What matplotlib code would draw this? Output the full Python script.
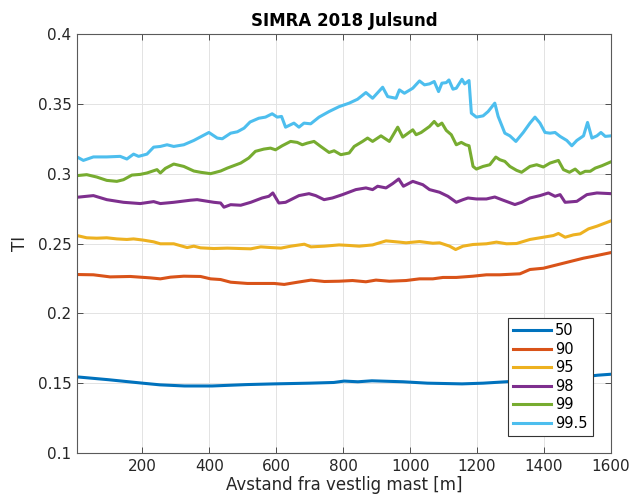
import matplotlib
matplotlib.use("Agg")
import matplotlib.pyplot as plt

# percentile levels shown in the legend
levels = ["50", "90", "95", "98", "99", "99.5"]
colors = ["#0072BD", "#D95319", "#EDB120", "#7E2F8E", "#77AC30", "#4DBEEE"]

# 50th percentile
x50 = [5, 98, 201, 253, 326, 409, 513, 595, 699, 772, 803, 844, 886, 979, 1052,
       1155, 1218, 1300, 1400, 1480, 1560, 1600]
ti50 = [0.1545, 0.1525, 0.150, 0.1488, 0.148, 0.148, 0.149, 0.1495, 0.150, 0.1505,
        0.1515, 0.151, 0.1517, 0.151, 0.150, 0.1495, 0.150, 0.1512, 0.152, 0.1535,
        0.1557, 0.1564]

# 90th percentile
x90 = [5, 54, 104, 164, 224, 254, 284, 324, 374, 404, 434, 464, 514, 554, 594, 624,
       664, 704, 744, 788, 828, 868, 898, 938, 988, 1028, 1068, 1098, 1138, 1188,
       1228, 1268, 1328, 1358, 1398, 1438, 1478, 1518, 1548, 1600]
ti90 = [0.2278, 0.2276, 0.2261, 0.2264, 0.2254, 0.2247, 0.2259, 0.2266, 0.2264,
        0.2247, 0.2242, 0.2223, 0.2214, 0.2214, 0.2214, 0.2207, 0.2223, 0.2238,
        0.2228, 0.2230, 0.2235, 0.2226, 0.2238, 0.2230, 0.2235, 0.2247, 0.2247,
        0.2257, 0.2257, 0.2266, 0.2276, 0.2276, 0.2283, 0.2314, 0.2323, 0.2347,
        0.2371, 0.2395, 0.2409, 0.2435]

# 95th percentile
x95 = [5, 34, 64, 94, 124, 154, 174, 204, 234, 254, 294, 334, 354, 374, 414, 454,
       494, 524, 554, 584, 614, 644, 684, 704, 744, 788, 818, 848, 888, 928, 968,
       988, 1028, 1068, 1088, 1118, 1136, 1158, 1188, 1228, 1258, 1288, 1318, 1358,
       1398, 1428, 1443, 1463, 1488, 1508, 1533, 1558, 1600]
ti95 = [0.2557, 0.2541, 0.2538, 0.2541, 0.2533, 0.2529, 0.2533, 0.2524, 0.2512,
        0.2498, 0.2498, 0.2471, 0.2481, 0.2469, 0.2464, 0.2467, 0.2464, 0.2462,
        0.2476, 0.2471, 0.2467, 0.2481, 0.2495, 0.2476, 0.2481, 0.2490, 0.2486,
        0.2481, 0.2490, 0.2519, 0.2510, 0.2505, 0.2514, 0.2502, 0.2505, 0.2481,
        0.2457, 0.2481, 0.2493, 0.2498, 0.2510, 0.2498, 0.2500, 0.2529, 0.2545,
        0.2557, 0.2572, 0.2545, 0.2562, 0.2569, 0.2605, 0.2624, 0.2662]

# 98th percentile
x98 = [5, 54, 94, 144, 194, 234, 254, 294, 344, 364, 414, 434, 444, 464, 494, 524,
       558, 578, 590, 608, 628, 668, 698, 718, 743, 768, 798, 838, 868, 888, 903,
       928, 948, 966, 980, 1008, 1038, 1058, 1088, 1113, 1138, 1158, 1173, 1198,
       1228, 1253, 1278, 1313, 1333, 1358, 1388, 1413, 1433, 1448, 1463, 1498,
       1528, 1558, 1600]
ti98 = [0.2831, 0.2843, 0.2814, 0.2795, 0.2786, 0.2800, 0.2786, 0.2795, 0.2810,
        0.2814, 0.2795, 0.2790, 0.2760, 0.2778, 0.2774, 0.2795, 0.2826, 0.2838,
        0.2862, 0.2790, 0.2795, 0.2843, 0.2857, 0.2843, 0.2814, 0.2826, 0.2850,
        0.2886, 0.2898, 0.2886, 0.2910, 0.2898, 0.2929, 0.2962, 0.2910, 0.2945,
        0.2921, 0.2886, 0.2867, 0.2838, 0.2795, 0.2814, 0.2826, 0.2819, 0.2819,
        0.2833, 0.2810, 0.2779, 0.2795, 0.2826, 0.2843, 0.2862, 0.2838, 0.2850,
        0.2795, 0.2802, 0.2850, 0.2862, 0.2857]

# 99th percentile
x99 = [5, 34, 64, 94, 124, 144, 169, 194, 214, 244, 254, 269, 294, 324, 354, 374,
       404, 434, 454, 494, 518, 538, 563, 583, 598, 618, 643, 663, 678, 693, 713,
       733, 758, 773, 793, 818, 833, 858, 873, 888, 913, 938, 963, 978, 1008, 1018,
       1033, 1058, 1072, 1083, 1095, 1108, 1123, 1138, 1153, 1166, 1176, 1188, 1198,
       1218, 1238, 1256, 1268, 1283, 1298, 1318, 1333, 1358, 1378, 1398, 1418, 1443,
       1458, 1476, 1493, 1508, 1523, 1538, 1553, 1573, 1600]
ti99 = [0.2986, 0.2993, 0.2976, 0.2952, 0.2945, 0.2957, 0.2990, 0.2995, 0.3005,
        0.3029, 0.3005, 0.3038, 0.3069, 0.3052, 0.3019, 0.3010, 0.3000, 0.3019,
        0.3040, 0.3076, 0.3112, 0.3160, 0.3176, 0.3183, 0.3171, 0.3200, 0.3231,
        0.3224, 0.3207, 0.3219, 0.3231, 0.3195, 0.3152, 0.3164, 0.3136, 0.3148,
        0.3195, 0.3231, 0.3255, 0.3231, 0.3271, 0.3231, 0.3333, 0.3262, 0.3314,
        0.3279, 0.3295, 0.3338, 0.3374, 0.3343, 0.3362, 0.3310, 0.3279, 0.3207,
        0.3224, 0.3207, 0.3200, 0.3052, 0.3033, 0.3052, 0.3064, 0.3119, 0.3100,
        0.3088, 0.3052, 0.3024, 0.3010, 0.3052, 0.3064, 0.3048, 0.3076, 0.3095,
        0.3029, 0.3010, 0.3033, 0.3000, 0.3017, 0.3017, 0.3040, 0.3057, 0.3085]

# 99.5th percentile
x995 = [5, 24, 54, 94, 134, 154, 174, 189, 214, 234, 254, 274, 294, 324, 354, 399,
        424, 439, 464, 484, 504, 522, 548, 568, 588, 603, 616, 628, 653, 668, 683,
        703, 728, 758, 788, 818, 843, 868, 888, 918, 933, 958, 968, 983, 1008, 1028,
        1043, 1058, 1072, 1085, 1095, 1108, 1116, 1128, 1138, 1155, 1163, 1176,
        1183, 1198, 1218, 1233, 1253, 1263, 1283, 1298, 1316, 1338, 1358, 1373,
        1388, 1403, 1418, 1433, 1448, 1468, 1483, 1498, 1518, 1530, 1543, 1558,
        1570, 1583, 1600]
ti995 = [0.3120, 0.3095, 0.3120, 0.3120, 0.3124, 0.3105, 0.3140, 0.3124, 0.3140,
         0.3190, 0.3195, 0.3207, 0.3195, 0.3207, 0.3238, 0.3295, 0.3255, 0.3250,
         0.3290, 0.3300, 0.3326, 0.3370, 0.3397, 0.3405, 0.3429, 0.3405, 0.3410,
         0.3333, 0.3362, 0.3333, 0.3362, 0.3357, 0.3405, 0.3445, 0.3480, 0.3505,
         0.3533, 0.3581, 0.3540, 0.3619, 0.3552, 0.3540, 0.3600, 0.3576, 0.3612,
         0.3664, 0.3636, 0.3643, 0.3660, 0.3588, 0.3648, 0.3652, 0.3671, 0.3605,
         0.3612, 0.3676, 0.3643, 0.3667, 0.3433, 0.3405, 0.3414, 0.3445, 0.3505,
         0.3410, 0.3290, 0.3271, 0.3231, 0.3295, 0.3362, 0.3405, 0.3362, 0.3295,
         0.3290, 0.3295, 0.3267, 0.3238, 0.3200, 0.3238, 0.3271, 0.3367, 0.3255,
         0.3271, 0.3295, 0.3267, 0.3271]

xs = [x50, x90, x95, x98, x99, x995]
ys = [ti50, ti90, ti95, ti98, ti99, ti995]

text_col = "#262626"
fig = plt.figure(figsize=(6.3, 5.01), dpi=100)
ax = fig.add_axes([0.1222, 0.0958, 0.8476, 0.8363])

for x, y, lab, c in zip(xs, ys, levels, colors):
    ax.plot(x, y, color=c, lw=2.2, label=lab)

ax.set_xlim(5, 1600)
ax.set_ylim(0.1, 0.4)
ax.set_xticks([200, 400, 600, 800, 1000, 1200, 1400, 1600])
yt = [0.1, 0.15, 0.2, 0.25, 0.3, 0.35, 0.4]
ax.set_yticks(yt)
ax.set_yticklabels(["0.1", "0.15", "0.2", "0.25", "0.3", "0.35", "0.4"])

ax.grid(True, color="#e3e3e3", lw=0.7)
ax.set_axisbelow(True)
ax.tick_params(direction="in", top=True, right=True, length=4, width=0.7,
               labelsize=11, colors="#4d4d4d", labelcolor=text_col, pad=4)
for s in ax.spines.values():
    s.set_color("#5a5a5a")
    s.set_linewidth(0.8)

ax.set_title("SIMRA 2018 Julsund", fontsize=12, fontweight="bold",
             color="black", pad=6)
ax.set_xlabel("Avstand fra vestlig mast [m]", fontsize=12, color=text_col,
              labelpad=2)
ax.set_ylabel("TI", fontsize=12, color=text_col, labelpad=6)

# legend box sits a little in from the lower right corner
leg = ax.legend(loc="lower right", bbox_to_anchor=(0.966, 0.041),
                borderaxespad=0, fontsize=10.5, fancybox=False, framealpha=1,
                edgecolor="#333333", handlelength=2.6, labelspacing=0.24,
                handletextpad=0.3, borderpad=0.35)
leg.get_frame().set_linewidth(0.8)

fig.savefig("out.png", dpi=100)
